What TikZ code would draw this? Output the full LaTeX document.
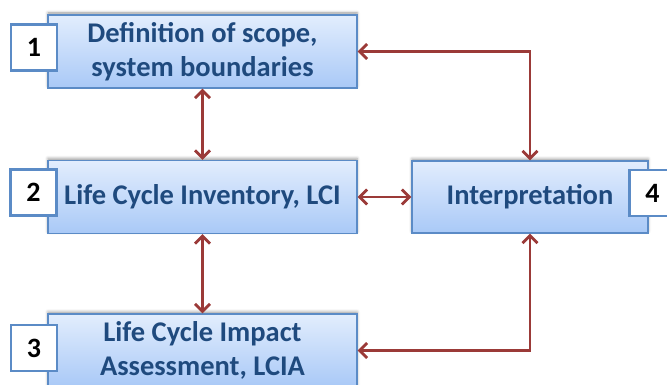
\documentclass[tikz,border=0pt]{standalone}
\usepackage{fontspec}
\setmainfont{Carlito}
\usetikzlibrary{arrows.meta,shadows.blur}

\definecolor{boxline}{HTML}{5B8BC6}
\definecolor{boxtop}{HTML}{E2EDFD}
\definecolor{boxbottom}{HTML}{A9C9F7}
\definecolor{boxtext}{HTML}{1F4A7E}
\definecolor{linkred}{HTML}{9B3A38}

\tikzset{
    stage/.style={draw=boxline,line width=1.2pt,top color=boxtop,bottom color=boxbottom,
        minimum width=309pt,minimum height=73pt,inner sep=0pt,align=center,
        text=boxtext,font=\bfseries\fontsize{28.5}{34}\selectfont,
        blur shadow={shadow xshift=0pt,shadow yshift=2pt,shadow blur radius=3pt,shadow opacity=40}},
    tag/.style={draw=boxline,line width=2.2pt,fill=white,minimum width=46pt,minimum height=46pt,
        inner sep=0pt,font=\bfseries\fontsize{28}{30}\selectfont},
    link/.style={draw=linkred,line width=2.8pt,
        {Straight Barb[length=7.5pt,width=15pt,line width=2.8pt]}-{Straight Barb[length=7.5pt,width=15pt,line width=2.8pt]}}
}

\begin{document}
\begin{tikzpicture}[x=1pt,y=-1pt]
    \useasboundingbox (0,0) rectangle (667,385);

    % the four stages
    \node[stage] (scope) at (202.5,51.5) {Definition of scope,\\system boundaries};
    \node[stage] (lci) at (202.5,197) {Life Cycle Inventory, LCI};
    \node[stage] (lcia) at (202.5,350.5) {Life Cycle Impact\\Assessment, LCIA};
    \node[stage,minimum width=236pt,minimum height=72pt] (interp) at (530,197) {Interpretation};

    % numbers
    \node[tag] at (34,47.5) {1};
    \node[tag] at (33.5,192.5) {2};
    \node[tag] at (34,348) {3};
    \node[tag] at (652.5,193) {4};

    % links
    \draw[link] (scope) -- (lci);
    \draw[link] (lci) -- (lcia);
    \draw[link] (lci) -- (interp);
    \draw[link] (scope.east) -| (interp.north);
    \draw[link] (lcia.east) -| (interp.south);
\end{tikzpicture}
\end{document}
